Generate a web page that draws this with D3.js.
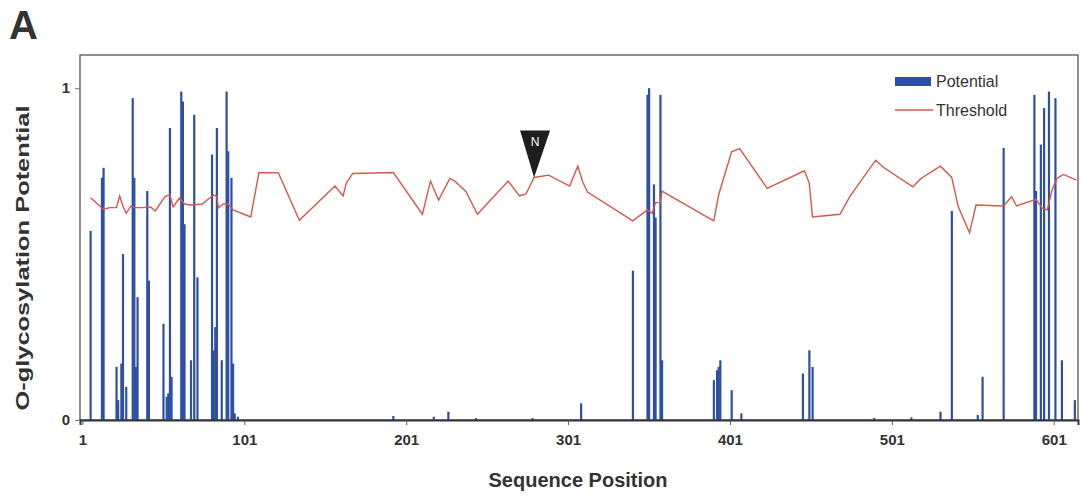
<!DOCTYPE html>
<html>
<head>
<meta charset="utf-8">
<script src="https://cdn.jsdelivr.net/npm/d3@7"></script>
<style>
  body { margin: 0; background: #fff; }
  svg text { font-family: "Liberation Sans", Arial, sans-serif; fill: #333; }
</style>
</head>
<body>
<svg id="chart" width="1081" height="500"></svg>
<script>
// O-glycosylation potential per residue (blue bars)
var potPos = [6,13,14,22,23,25,26,28,32,33,34,35,41,42,51,53,54,55,56,62,63,64,68,70,72,81,82,83,84,87,90,91,93,94,95,97,
  193,218,227,244,279,309,341,350,351,354,355,358,359,391,393,394,395,402,408,446,450,452,490,513,531,538,554,557,570,
  589,590,593,595,598,602,606,614];
var potVal = [0.57,0.73,0.76,0.16,0.06,0.17,0.50,0.10,0.97,0.73,0.16,0.37,0.69,0.42,0.29,0.07,0.08,0.88,0.13,0.99,0.96,0.59,0.18,0.92,0.43,0.80,0.21,0.28,0.88,0.18,0.99,0.81,0.73,0.17,0.02,0.01,
  0.012,0.01,0.025,0.006,0.006,0.05,0.45,0.98,1.0,0.71,0.61,0.98,0.18,0.12,0.15,0.16,0.18,0.09,0.02,0.14,0.21,0.16,0.006,0.008,0.025,0.63,0.015,0.13,0.82,
  0.98,0.69,0.83,0.94,0.99,0.97,0.18,0.06];

// threshold curve (red line)
var thrPos = [6,14,18,22,24,26,28,31,34,38,43,46,52,55,57,61,64,68,75,82,84,85,88,91,94,105,110,122,135,157,
  162,164,168,193,211,216,221,228,231,238,245,264,271,275,280,289,302,307,310,313,341,350,353,355,358,359,391,394,402,407,
  424,447,450,452,469,475,491,496,514,519,531,538,542,549,553,570,575,578,590,594,597,600,603,607,615];
var thrVal = [0.67,0.635,0.64,0.64,0.675,0.645,0.623,0.645,0.64,0.64,0.642,0.63,0.673,0.678,0.642,0.669,0.651,0.648,0.651,0.678,
  0.675,0.639,0.651,0.651,0.633,0.612,0.745,0.745,0.602,0.705,0.675,0.714,0.743,0.746,0.62,0.72,0.663,0.728,0.72,0.688,
  0.62,0.72,0.675,0.681,0.731,0.738,0.705,0.765,0.718,0.687,0.6,0.633,0.623,0.655,0.655,0.69,0.6,0.678,0.808,0.818,
  0.698,0.751,0.714,0.612,0.62,0.673,0.783,0.761,0.703,0.728,0.765,0.731,0.643,0.564,0.648,0.645,0.673,0.645,0.665,0.638,
  0.633,0.693,0.728,0.74,0.723];

var xTicks = [1,101,201,301,401,501,601];
var yTicks = [0,1];
var nSite = 280;   // N-glycosylation marker

// plot box (don't call these top/left: window.top is taken)
var box = {l: 80, r: 1078, t: 55, b: 420};

var svg = d3.select("#chart");

var x = d3.scaleLinear().domain([-0.5, 616]).range([box.l, box.r]);
var y = d3.scaleLinear().domain([0, 1.1]).range([box.b, box.t]);

// frame
svg.append("rect")
  .attr("x", box.l).attr("y", box.t)
  .attr("width", box.r - box.l).attr("height", box.b - box.t)
  .attr("fill", "none").attr("stroke", "#555").attr("stroke-width", 1.3);

// bars
svg.append("g")
  .selectAll("rect")
  .data(potPos.map(function(p, i) { return {pos: p, v: potVal[i]}; }))
  .join("rect")
  .attr("x", function(d) { return x(d.pos) - 1; })
  .attr("width", 2.2)
  .attr("y", function(d) { return y(d.v); })
  .attr("height", function(d) { return Math.max(0.8, box.b - y(d.v)); })
  .attr("fill", "#2d50a4");

// threshold
var thr = thrPos.map(function(p, i) { return [p, thrVal[i]]; });
svg.append("path")
  .datum(thr)
  .attr("fill", "none")
  .attr("stroke", "#d8574b")
  .attr("stroke-width", 1.4)
  .attr("d", d3.line().x(function(d) { return x(d[0]); }).y(function(d) { return y(d[1]); }));

// axes
var xAxis = svg.append("g")
  .attr("transform", "translate(0," + box.b + ")")
  .call(d3.axisBottom(x).tickValues(xTicks).tickSize(5).tickFormat(d3.format("d")));
xAxis.select(".domain").attr("stroke", "#333").attr("stroke-width", 2);
xAxis.selectAll("line").attr("stroke", "#555");
xAxis.selectAll("text")
  .attr("dy", "1.15em")
  .style("font-size", "15px").style("font-weight", "bold").style("fill", "#333");

var yAxis = svg.append("g")
  .attr("transform", "translate(" + box.l + ",0)")
  .call(d3.axisLeft(y).tickValues(yTicks).tickSize(5).tickFormat(d3.format("d")));
yAxis.select(".domain").remove();
yAxis.selectAll("line").attr("stroke", "#777");
yAxis.selectAll("text")
  .attr("x", -10)
  .style("font-size", "15px").style("font-weight", "bold").style("fill", "#333");

// axis labels
svg.append("text")
  .attr("x", 578).attr("y", 487)
  .attr("text-anchor", "middle")
  .style("font-size", "20px").style("font-weight", "bold")
  .text("Sequence Position");

svg.append("text")
  .attr("transform", "translate(29,258) rotate(-90)")
  .attr("text-anchor", "middle")
  .attr("textLength", 305).attr("lengthAdjust", "spacingAndGlyphs")
  .style("font-size", "19px").style("font-weight", "bold")
  .text("O-glycosylation Potential");

// panel letter
svg.append("text")
  .attr("x", 9).attr("y", 39)
  .style("font-size", "40px").style("font-weight", "bold")
  .text("A");

// N marker at the threshold
var nx = x(nSite), ny = y(thrVal[thrPos.indexOf(nSite)]);
svg.append("path")
  .attr("d", "M" + (nx - 14) + "," + (ny - 47) + "L" + (nx + 16) + "," + (ny - 47) + "L" + nx + "," + ny + "Z")
  .attr("fill", "#1e1e1e");
svg.append("text")
  .attr("x", nx + 1).attr("y", ny - 31)
  .attr("text-anchor", "middle")
  .style("font-size", "12px").style("fill", "#fff")
  .text("N");

// legend
var legend = svg.append("g");
legend.append("rect")
  .attr("x", 895).attr("y", 77).attr("width", 36).attr("height", 9)
  .attr("fill", "#2d50a4");
legend.append("text")
  .attr("x", 936).attr("y", 87)
  .style("font-size", "16px")
  .text("Potential");
legend.append("line")
  .attr("x1", 895).attr("x2", 933).attr("y1", 110).attr("y2", 110)
  .attr("stroke", "#d8574b").attr("stroke-width", 1.4);
legend.append("text")
  .attr("x", 936).attr("y", 116)
  .style("font-size", "16px")
  .text("Threshold");
</script>
</body>
</html>
